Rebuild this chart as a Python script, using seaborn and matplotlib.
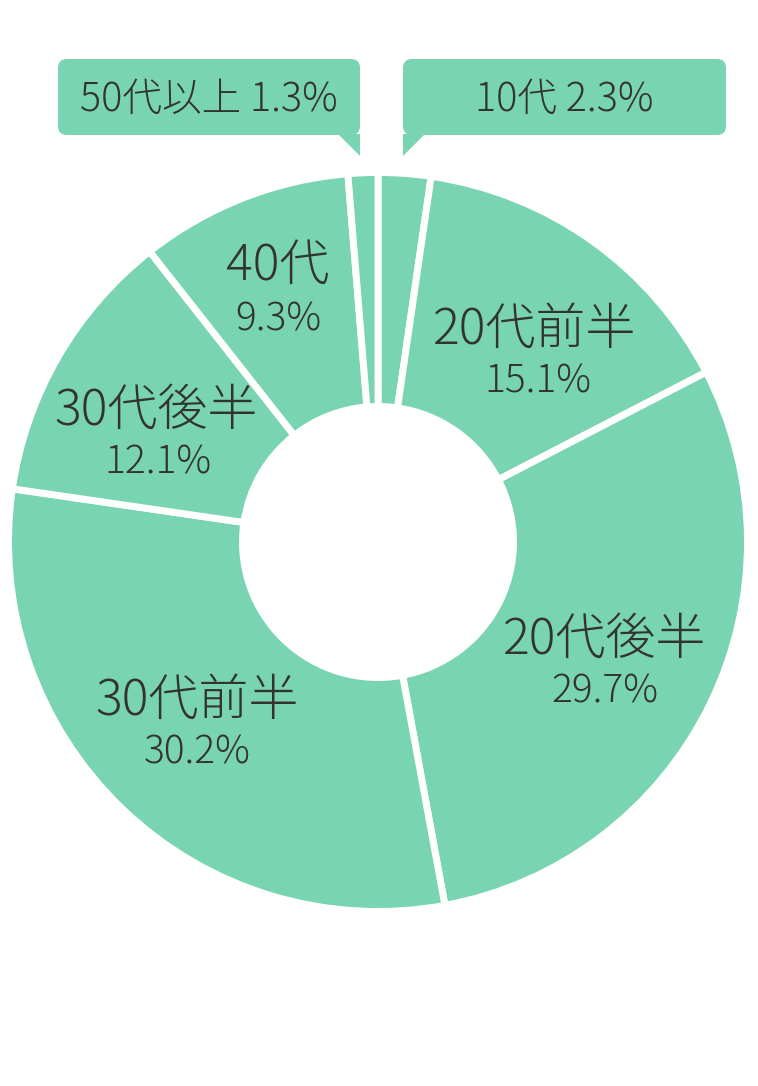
import matplotlib
matplotlib.use("Agg")
import matplotlib.pyplot as plt
from matplotlib.patches import FancyBboxPatch, Polygon
import seaborn as sns

# data (clockwise from the top)
groups = ["10代", "20代前半", "20代後半", "30代前半", "30代後半", "40代", "50代以上"]
shares = [2.3, 15.1, 29.7, 30.2, 12.1, 9.3, 1.3]

sns.set_theme(style="white")
plt.rcParams["font.family"] = ["Noto Sans CJK JP", "DejaVu Sans"]

W, H = 758, 1086
green = "#79D4B1"
ink = "#333333"
wt = "light"

fig = plt.figure(figsize=(W / 100, H / 100), dpi=100)
ax = fig.add_axes([0, 0, 1, 1])

def fy(y):
    # pixel row -> data y (origin at bottom)
    return H - y

ax.pie(shares, colors=[green] * len(shares), startangle=90, counterclock=False,
       center=(378, fy(542)), radius=369.5, frame=True,
       wedgeprops=dict(width=234, edgecolor="white", linewidth=5))

# labels inside the ring
inner = {
    "20代前半": ((535, 330), (538, 382)),
    "20代後半": ((605, 640), (605, 692)),
    "30代前半": ((197, 701), (197, 753)),
    "30代後半": ((156, 411), (158, 463)),
    "40代": ((278, 267), (278, 320)),
}
for g, v in zip(groups, shares):
    if g not in inner:
        continue
    (x1, y1), (x2, y2) = inner[g]
    ax.text(x1, fy(y1), g, ha="center", va="center", fontsize=36,
            color=ink, fontweight=wt)
    ax.text(x2, fy(y2), f"{v}%", ha="center", va="center", fontsize=28,
            color=ink, fontweight=wt)

# callout boxes for the thin slices
def callout(x0, x1, tri, text):
    box = FancyBboxPatch((x0, fy(135)), x1 - x0, 76,
                         boxstyle="round,pad=0,rounding_size=9",
                         facecolor=green, edgecolor="none")
    ax.add_patch(box)
    ax.add_patch(Polygon([(px, fy(py)) for px, py in tri], closed=True,
                         facecolor=green, edgecolor="none"))
    ax.text((x0 + x1) / 2, fy(100), text, ha="center", va="center",
            fontsize=28.5, color=ink, fontweight=wt)

callout(58, 360, [(338, 134), (360, 134), (360, 156)],
        f"{groups[6]} {shares[6]}%")
callout(403, 726, [(403, 134), (425, 134), (403, 156)],
        f"{groups[0]} {shares[0]}%")

ax.set_xlim(0, W)
ax.set_ylim(0, H)
ax.set_aspect("equal")
ax.axis("off")

fig.savefig("out.png", dpi=100, facecolor="white")
